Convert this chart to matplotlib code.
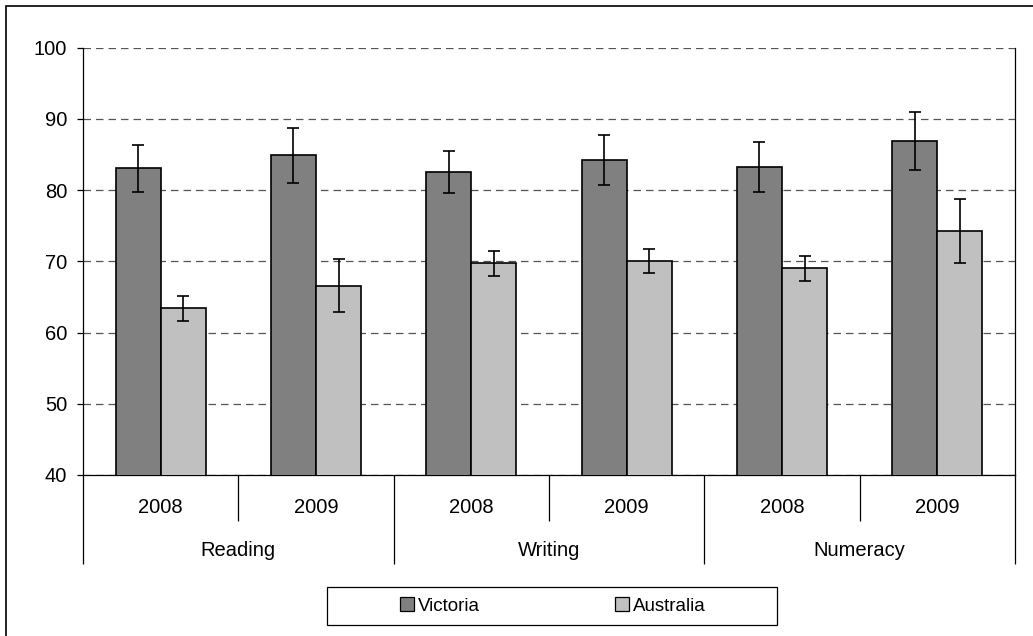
import matplotlib
matplotlib.use('Agg')
import matplotlib.pyplot as plt
import matplotlib.transforms as mtransforms
from matplotlib.patches import Rectangle, Patch
import numpy as np

plt.rcParams['font.family'] = ['Liberation Sans', 'DejaVu Sans']

subjects = ['Reading', 'Writing', 'Numeracy']
years = ['2008', '2009', '2008', '2009', '2008', '2009']
victoria = [83.1, 84.9, 82.6, 84.2, 83.3, 86.9]
victoria_err = [3.3, 3.85, 2.95, 3.5, 3.5, 4.05]
australia = [63.4, 66.6, 69.7, 70.0, 69.0, 74.2]
australia_err = [1.8, 3.75, 1.7, 1.7, 1.7, 4.5]

W, H = 1033, 636
fig = plt.figure(figsize=(W / 100, H / 100), dpi=100)
ax = fig.add_axes([83 / W, 1 - 475 / H, (1015 - 83) / W, (475 - 47.7) / H])

x = np.arange(len(years))
bw = 0.29
errkw = dict(ecolor='black', elinewidth=1.2, capsize=4.5, capthick=1.2)
ax.bar(x - bw / 2, victoria, bw, yerr=victoria_err, color='#808080',
       edgecolor='black', linewidth=1.2, error_kw=errkw, zorder=3, label='Victoria')
ax.bar(x + bw / 2, australia, bw, yerr=australia_err, color='#c0c0c0',
       edgecolor='black', linewidth=1.2, error_kw=errkw, zorder=3, label='Australia')

ax.set_ylim(40, 100)
ax.set_xlim(-0.5, len(years) - 0.5)
ax.set_yticks(range(40, 101, 10))
ax.yaxis.grid(True, linestyle=(0, (6, 4)), color='#555555', linewidth=0.9, zorder=0)
ax.tick_params(axis='y', direction='out', length=4.5, width=0.9, pad=7, labelsize=14.5)

ax.spines['top'].set_visible(False)
for s in ['left', 'right', 'bottom']:
    ax.spines[s].set_linewidth(0.9)
    ax.spines[s].set_color('black')

# category axis: long ticks used as separators
ax.set_xticks([-0.5, 1.5, 3.5, 5.5])
ax.set_xticks([0.5, 2.5, 4.5], minor=True)
ax.tick_params(axis='x', which='major', direction='out', length=64, width=0.9, labelbottom=False)
ax.tick_params(axis='x', which='minor', direction='out', length=33, width=0.9, labelbottom=False)

trans = mtransforms.blended_transform_factory(ax.transData, fig.transFigure)
for i, yr in enumerate(years):
    ax.text(i, 1 - 507.5 / H, yr, transform=trans, ha='center', va='center', fontsize=14.5)
for j, subj in enumerate(subjects):
    ax.text(2 * j + 0.5, 1 - 550 / H, subj, transform=trans, ha='center', va='center', fontsize=14.5)

# legend box
fig.add_artist(Rectangle((327 / W, 1 - 625 / H), (777 - 327) / W, (625 - 587) / H,
                         transform=fig.transFigure, fill=False, edgecolor='black', linewidth=0.9))
handles = [Patch(facecolor='#808080', edgecolor='black', linewidth=0.9),
           Patch(facecolor='#c0c0c0', edgecolor='black', linewidth=0.9)]
fig.legend(handles, ['Victoria', 'Australia'], loc='center', ncol=2,
           bbox_to_anchor=(553 / W, 1 - 606 / H), frameon=False, fontsize=13.5,
           handlelength=0.75, handleheight=0.75, handletextpad=0.2, columnspacing=7.2)

# outer chart border
fig.add_artist(Rectangle((6 / W, -0.1), 1.2, 1.1 - 6 / H, transform=fig.transFigure,
                         fill=False, edgecolor='black', linewidth=1.2))

fig.savefig('out.png', dpi=100)
